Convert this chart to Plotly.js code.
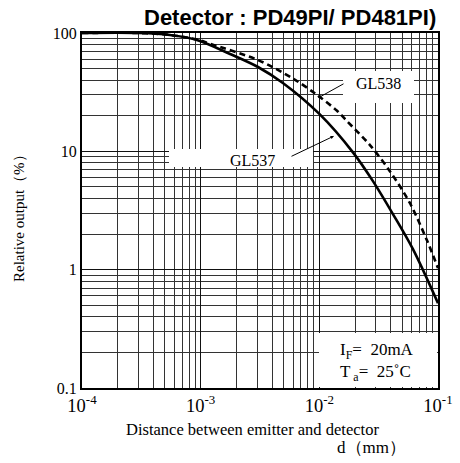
<!DOCTYPE html>
<html>
<head>
<meta charset="utf-8">
<script src="https://cdn.plot.ly/plotly-3.0.1.min.js"></script>
<style>html,body{margin:0;padding:0;background:#fff;}#chart{width:460px;height:463px;}</style>
</head>
<body>
<div id="chart"></div>
<script>
// Distance d (mm) and relative output (%)
const distGL537 = [1e-4, 3e-4, 5.5e-4, 9.3e-4, 1.77e-3, 3.04e-3, 4.93e-3, 1.01e-2, 1.92e-2, 2.83e-2, 4.17e-2, 6.15e-2, 0.1];
const outGL537  = [100, 100, 96.2, 87.3, 66.5, 51.6, 37.8, 20.5, 9.8, 5.6, 2.95, 1.49, 0.52];

const distGL538 = [1e-4, 3e-4, 5.5e-4, 9.3e-4, 1.2e-3, 3.04e-3, 6.0e-3, 9.55e-3, 1.41e-2, 1.71e-2, 2.67e-2, 3.93e-2, 5.79e-2, 8.05e-2, 0.1];
const outGL538  = [100, 100, 96.2, 88, 81, 59.1, 41.2, 30.0, 22.0, 18.0, 11.3, 6.8, 3.66, 1.78, 1.03];

const xTickVals = [1e-4, 1e-3, 1e-2, 1e-1];
const xTickText = ['10<sup>-4</sup>', '10<sup>-3</sup>', '10<sup>-2</sup>', '10<sup>-1</sup>'];
const yTickVals = [0.1, 1, 10, 100];
const yTickText = ['0.1', '1', '10', '100'];

const seriesNames = ['GL537', 'GL538'];
const titleText = '<b>Detector : PD49PI/ PD481PI)</b>';
const xTitle1 = 'Distance between emitter and detector';
const xTitle2 = 'd\uFF08mm\uFF09';
const yTitle = 'Relative output\uFF08%\uFF09';
const condText = 'I<sub>F</sub>=\u00A0 20mA<br>T<sub>\u00A0a</sub>=\u00A0 25\u02DAC';

const serif = 'Liberation Serif, Times New Roman, serif';
const W = 460, H = 463;
const M = {l: 82, r: 22, t: 33, b: 75};
const PW = W - M.l - M.r, PH = H - M.t - M.b;
const px = v => (v - M.l) / PW;
const py = v => (H - M.b - v) / PH;

const traces = [
  {x: distGL537, y: outGL537, name: seriesNames[0], mode: 'lines',
   line: {color: '#000', width: 2.6, shape: 'spline', smoothing: 0.9}},
  {x: distGL538, y: outGL538, name: seriesNames[1], mode: 'lines',
   line: {color: '#000', width: 2.6, dash: '6px,4px', shape: 'spline', smoothing: 0.9}}
];

const axisCommon = {
  type: 'log', showline: true, mirror: true, linecolor: '#000', linewidth: 2,
  ticks: '', showgrid: true, gridcolor: '#111', gridwidth: 1, zeroline: false,
  tickfont: {family: serif, size: 16, color: '#000'},
  tickmode: 'array',
  minor: {dtick: 'D1', showgrid: true, gridcolor: '#333', gridwidth: 1, ticks: ''}
};

const boxes = [
  {x0: 169, x1: 313, y0: 149, y1: 167},
  {x0: 343, x1: 414, y0: 71, y1: 103},
  {x0: 319, x1: 437, y0: 333, y1: 387}
];

const layout = {
  width: W, height: H, margin: M, showlegend: false,
  paper_bgcolor: '#fff', plot_bgcolor: '#fff',
  xaxis: Object.assign({}, axisCommon, {range: [-4, -1], tickvals: xTickVals, ticktext: xTickText,
    tickfont: {family: serif, size: 18.5, color: '#000'}}),
  yaxis: Object.assign({}, axisCommon, {range: [-1, 2], tickvals: yTickVals, ticktext: yTickText}),
  shapes: boxes.map(b => ({type: 'rect', xref: 'paper', yref: 'paper', layer: 'above',
    x0: px(b.x0), x1: px(b.x1), y0: py(b.y1), y1: py(b.y0),
    fillcolor: '#fff', line: {width: 0}})),
  annotations: [
    {xref: 'paper', yref: 'paper', x: px(438), y: py(17), xanchor: 'right', yanchor: 'middle',
     text: titleText, showarrow: false, font: {family: 'Liberation Sans, Arial, sans-serif', size: 22, color: '#000'}},
    {xref: 'paper', yref: 'paper', x: px(19), y: py(215), xanchor: 'center', yanchor: 'middle', textangle: -90,
     text: yTitle, showarrow: false, font: {family: serif, size: 15, color: '#000'}},
    {xref: 'paper', yref: 'paper', x: px(252), y: py(429), xanchor: 'center', yanchor: 'middle',
     text: xTitle1, showarrow: false, font: {family: serif, size: 16.5, color: '#000'}},
    {xref: 'paper', yref: 'paper', x: px(371), y: py(447), xanchor: 'center', yanchor: 'middle',
     text: xTitle2, showarrow: false, font: {family: serif, size: 17, color: '#000'}},
    {xref: 'paper', yref: 'paper', x: px(378), y: py(83), xanchor: 'center', yanchor: 'middle',
     text: seriesNames[1], showarrow: false, font: {family: serif, size: 16, color: '#000'}},
    {xref: 'paper', yref: 'paper', x: px(252), y: py(160), xanchor: 'center', yanchor: 'middle',
     text: seriesNames[0], showarrow: false, font: {family: serif, size: 16, color: '#000'}},
    {xref: 'paper', yref: 'paper', x: px(318), y: py(98), ax: 27, ay: -15, text: '',
     showarrow: true, arrowhead: 2, arrowsize: 0.7, arrowwidth: 1, arrowcolor: '#000', standoff: 0, startstandoff: 0},
    {xref: 'paper', yref: 'paper', x: px(334), y: py(136), ax: -44, ay: 21, text: '',
     showarrow: true, arrowhead: 2, arrowsize: 0.7, arrowwidth: 1, arrowcolor: '#000', standoff: 0, startstandoff: 0},
    {xref: 'paper', yref: 'paper', x: px(338), y: py(362), xanchor: 'left', yanchor: 'middle', align: 'left',
     text: condText, showarrow: false, font: {family: serif, size: 17, color: '#000'}}
  ]
};

Plotly.newPlot('chart', traces, layout, {staticPlot: true, displayModeBar: false});
</script>
</body>
</html>
